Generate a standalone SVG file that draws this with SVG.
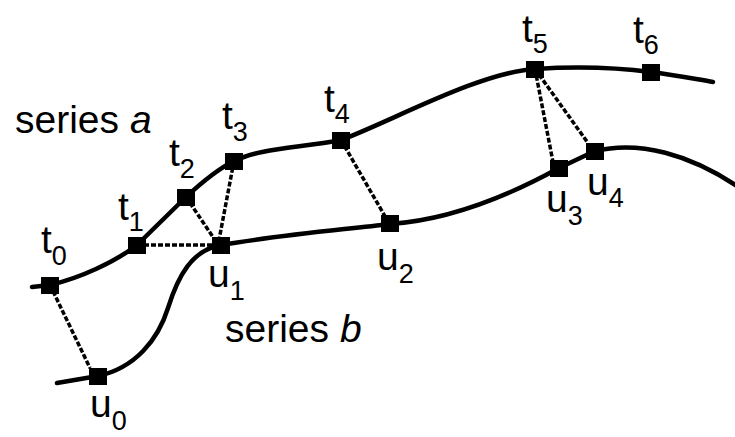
<svg xmlns="http://www.w3.org/2000/svg" width="735" height="437" viewBox="0 0 735 437">
<style>
.curve{fill:none;stroke:#000;stroke-width:4.5;stroke-linecap:round;stroke-linejoin:round}
.match{fill:none;stroke:#000;stroke-width:3.5;stroke-dasharray:5 2}
.pt{fill:#000}
text{font-family:"Liberation Sans",Arial,sans-serif;fill:#000}
.lbl{font-size:39px}
.sub{font-size:27px}
</style>
<rect width="735" height="437" fill="#fff"/>
<g id="connectors">
<path id="series-a-curve" class="curve" d="M32 287 L50 285 C80 278 115 262 137 245 L186 197 C200 184 220 168 234 161 C260 148 300 148 341 140 C390 122 480 72 535 69 C580 66 620 68 651 72 C675 75 695 79 713 82"/>
<path id="series-b-curve" class="curve" d="M57 383 L98 376 C135 368 158 340 168 308 C178 276 192 250 221 245 C280 235 340 230 390 224 C450 220 510 195 559 168 L595 151 C640 140 690 155 737 186"/>
<line class="match" x1="50" y1="285" x2="90" y2="368"/>
<line class="match" x1="137" y1="245" x2="221" y2="245"/>
<line class="match" x1="186" y1="197" x2="215" y2="240"/>
<line class="match" x1="234" y1="161" x2="219" y2="240"/>
<line class="match" x1="341" y1="140" x2="386" y2="218"/>
<line class="match" x1="535" y1="69" x2="553" y2="162"/>
<line class="match" x1="535" y1="69" x2="588" y2="143"/>
</g>
<g id="t0"><rect class="pt" x="41" y="277" width="18" height="17"/><text x="41" y="253" class="lbl">t<tspan class="sub" y="265">0</tspan></text></g>
<g id="t1"><rect class="pt" x="128" y="237" width="18" height="17"/><text x="118" y="220" class="lbl">t<tspan class="sub" y="231">1</tspan></text></g>
<g id="t2"><rect class="pt" x="177" y="189" width="18" height="17"/><text x="169" y="166" class="lbl">t<tspan class="sub" y="178">2</tspan></text></g>
<g id="t3"><rect class="pt" x="225" y="153" width="18" height="17"/><text x="222" y="129" class="lbl">t<tspan class="sub" y="141">3</tspan></text></g>
<g id="t4"><rect class="pt" x="332" y="132" width="18" height="17"/><text x="324" y="112" class="lbl">t<tspan class="sub" y="123">4</tspan></text></g>
<g id="t5"><rect class="pt" x="526" y="61" width="18" height="17"/><text x="522" y="42" class="lbl">t<tspan class="sub" y="53">5</tspan></text></g>
<g id="t6"><rect class="pt" x="642" y="64" width="18" height="17"/><text x="633" y="43" class="lbl">t<tspan class="sub" y="54">6</tspan></text></g>
<g id="u0"><rect class="pt" x="89" y="368" width="18" height="17"/><text x="90" y="417" class="lbl">u<tspan class="sub" y="430">0</tspan></text></g>
<g id="u1"><rect class="pt" x="212" y="237" width="18" height="17"/><text x="208" y="287" class="lbl">u<tspan class="sub" y="300">1</tspan></text></g>
<g id="u2"><rect class="pt" x="381" y="215" width="18" height="17"/><text x="377" y="270" class="lbl">u<tspan class="sub" y="283">2</tspan></text></g>
<g id="u3"><rect class="pt" x="550" y="160" width="18" height="17"/><text x="546" y="212" class="lbl">u<tspan class="sub" y="225">3</tspan></text></g>
<g id="u4"><rect class="pt" x="586" y="143" width="18" height="17"/><text x="587" y="195" class="lbl">u<tspan class="sub" y="207">4</tspan></text></g>
<text id="series-a" x="15" y="133" class="lbl">series <tspan font-style="italic">a</tspan></text>
<text id="series-b" x="225" y="342" class="lbl">series <tspan font-style="italic">b</tspan></text>
</svg>
